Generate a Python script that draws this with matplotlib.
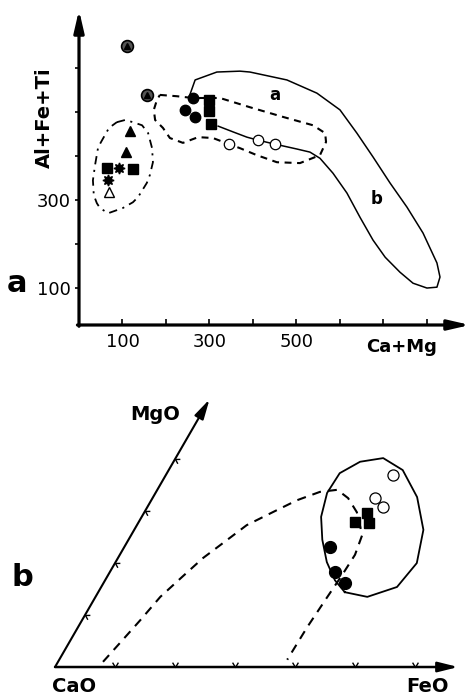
import numpy as np
import matplotlib
matplotlib.use('Agg')
import matplotlib.pyplot as plt
from matplotlib.path import Path

plt.rcParams['font.family'] = 'DejaVu Sans'
plt.rcParams['lines.scale_dashes'] = False

# --- a: Al+Fe+Ti vs Ca+Mg ---
circtri_x = [110, 156]
circtri_y = [650, 539]
dot_x = [262, 244, 267]
dot_y = [532, 505, 489]
sq_x = [299, 299, 303]
sq_y = [527, 502, 473]
ring_x = [345, 411, 451]
ring_y = [427, 436, 427]
tri_x = [117, 108]
tri_y = [457, 409]
sq2_x = [64, 124]
sq2_y = [373, 370]
star_x = [92, 67]
star_y = [373, 345]
otri_x = [69]
otri_y = [318]

# field outlines
field_ab_x = [253, 267, 317, 370, 393, 478, 547, 600, 639, 676, 715, 754, 791, 823, 830, 823,
              800, 768, 738, 704, 676, 646, 616, 584, 554, 531, 501, 451, 412, 386, 354, 320]
field_ab_y = [534, 573, 591, 593, 591, 573, 543, 505, 452, 398, 339, 284, 225, 157, 125, 102,
              100, 111, 136, 170, 209, 261, 316, 361, 395, 409, 416, 427, 436, 443, 455, 468]
dash_x = [186, 225, 262, 324, 393, 469, 538, 566, 568, 554, 508, 455, 409, 370, 345, 308, 274,
          239, 209, 193, 175, 172, 179, 186]
dash_y = [539, 536, 532, 532, 511, 489, 470, 452, 432, 402, 384, 386, 402, 418, 427, 441, 443,
          430, 441, 464, 482, 505, 527, 539]
dd_x = [87, 106, 124, 145, 159, 168, 170, 163, 156, 136, 124, 101, 67, 48, 41, 34, 32, 37, 44,
        53, 69, 87]
dd_y = [477, 482, 477, 470, 452, 418, 386, 357, 339, 307, 295, 282, 270, 282, 293, 311, 345,
        380, 420, 436, 464, 477]

# --- b: CaO - MgO - FeO diagram (axis units) ---
b_ring_fe = [3.79, 3.71, 3.93]
b_ring_mg = [3.70, 3.25, 3.08]
b_sq_fe = [3.60, 3.72, 3.85]
b_sq_mg = [2.79, 2.96, 2.77]
b_dot_fe = [3.43, 3.75, 4.03]
b_dot_mg = [2.31, 1.83, 1.62]

egg_fe = [4.11, 4.53, 4.93, 5.03, 4.82, 4.40, 3.90, 3.46, 3.11, 2.88, 2.86, 2.99, 3.23, 3.52,
          3.83, 4.11]
egg_mg = [1.44, 1.35, 1.54, 2.00, 2.64, 3.27, 3.79, 4.02, 3.95, 3.73, 3.35, 2.89, 2.45, 2.02,
          1.67, 1.44]
arch_fe = [0.75, 0.85, 0.97, 1.08, 1.25, 1.42, 1.61, 1.83, 2.14, 2.43, 2.73, 3.00, 3.26, 3.54,
           3.85, 3.92, 3.90, 3.86, 3.82, 3.80]
arch_mg = [0.10, 0.46, 0.90, 1.35, 1.73, 2.10, 2.39, 2.73, 2.98, 3.21, 3.37, 3.41, 3.25, 2.98,
           2.54, 2.16, 1.77, 1.29, 0.77, 0.14]
ticks_b = [1, 2, 3, 4, 5, 6]


def tern(fe, mg):
    fe = np.asarray(fe, float)
    mg = np.asarray(mg, float)
    return fe + 0.5 * mg, mg * np.sqrt(3) / 2


def fpos(px, py):
    return px / 472, 1 - py / 696


fig = plt.figure(figsize=(4.72, 6.96), dpi=100)

ax = fig.add_axes([79 / 472, 1 - 325 / 696, 391 / 472, 315 / 696])
ax.set_xlim(0, 899)
ax.set_ylim(16, 732)
for s in ax.spines.values():
    s.set_visible(False)
ax.set_xticks([100, 200, 300, 400, 500, 600, 700, 800])
ax.set_xticklabels(['100', '', '300', '', '500', '', '', ''])
ax.set_yticks([100, 200, 300, 400, 500, 600])
ax.set_yticklabels(['100', '', '300', '', '', ''])
ax.tick_params(axis='x', direction='in', length=4, width=1.2, pad=6, labelsize=13)
ax.tick_params(axis='y', direction='out', length=3, width=1.2, pad=3, labelsize=13)
arrow = dict(arrowstyle='-|>,head_length=1.3,head_width=0.3', lw=2.3, color='k',
             shrinkA=0, shrinkB=0)
ax.annotate('', xy=(0, 1), xytext=(0, -0.004), xycoords='axes fraction', arrowprops=arrow,
            annotation_clip=False)
ax.annotate('', xy=(1, 0), xytext=(-0.004, 0), xycoords='axes fraction', arrowprops=arrow,
            annotation_clip=False)

ax.plot(field_ab_x, field_ab_y, color='k', lw=1.1)
ax.plot(dash_x, dash_y, color='k', lw=1.5, dashes=(5, 4))
ax.plot(dd_x, dd_y, color='k', lw=1.3, dashes=(6, 4, 1.5, 4))

ax.plot(circtri_x, circtri_y, 'o', ms=8.5, mfc='#555555', mec='k', mew=1.2, zorder=5)
ax.plot(circtri_x, circtri_y, '^', ms=4.5, color='k', zorder=6)
ax.plot(dot_x, dot_y, 'o', ms=7.5, color='k', zorder=5)
ax.plot(sq_x, sq_y, 's', ms=6.5, color='k', zorder=5)
ax.plot(ring_x, ring_y, 'o', ms=7.5, mfc='white', mec='k', mew=0.9, zorder=5)
ax.plot(tri_x, tri_y, '^', ms=7.5, color='k', zorder=5)
ax.plot(sq2_x, sq2_y, 's', ms=6.5, color='k', zorder=5)
ax.plot(star_x, star_y, marker=(8, 1, 0), ls='none', ms=8, color='k', zorder=5)
ax.plot(otri_x, otri_y, '^', ms=7.5, mfc='white', mec='k', mew=1.0, zorder=5)

ax.text(451, 539, 'a', fontsize=12, fontweight='bold', ha='center', va='center')
ax.text(685, 302, 'b', fontsize=12, fontweight='bold', ha='center', va='center')

fig.text(*fpos(44, 118), 'Al+Fe+Ti', rotation=90, fontsize=14, fontweight='bold',
         ha='center', va='center')
fig.text(*fpos(402, 347), 'Ca+Mg', fontsize=13, fontweight='bold', ha='center', va='center')
fig.text(*fpos(17, 284), 'a', fontsize=22, fontweight='bold', ha='center', va='center')

# --- lower diagram ---
ax2 = fig.add_axes([0, 0, 1, 316 / 696])
ax2.set_xlim(-0.917, 6.95)
ax2.set_ylim(-0.483, 4.783)
ax2.axis('off')

arrow2 = dict(arrowstyle='-|>,head_length=1.2,head_width=0.3', lw=1.8, color='k',
              shrinkA=0, shrinkB=0)
ax2.annotate('', xy=(6.72, 0), xytext=(0, 0), arrowprops=arrow2)
mx, my = tern(0, 5.15)
ax2.annotate('', xy=(float(mx), float(my)), xytext=(0, 0),
             arrowprops=dict(arrow2, lw=1.5))

v_fe = Path([(-0.6, 1), (0, 0), (0.6, 1)], [Path.MOVETO, Path.LINETO, Path.LINETO])
v_mg = Path([(0.93, 0.02), (0, 0), (0.45, -0.82)], [Path.MOVETO, Path.LINETO, Path.LINETO])
tx, ty = tern(ticks_b, np.zeros(6))
ax2.plot(tx, ty, ls='none', marker=v_fe, ms=7, mfc='none', mec='k', mew=1.0)
tx, ty = tern(np.zeros(4), ticks_b[:4])
ax2.plot(tx, ty, ls='none', marker=v_mg, ms=7, mfc='none', mec='k', mew=1.0)

ex, ey = tern(egg_fe, egg_mg)
ax2.plot(ex, ey, color='k', lw=1.3)
axx, ayy = tern(arch_fe, arch_mg)
ax2.plot(axx, ayy, color='k', lw=1.5, dashes=(6.5, 5))

px, py = tern(b_ring_fe, b_ring_mg)
ax2.plot(px, py, 'o', ms=8, mfc='white', mec='k', mew=0.9, zorder=5)
px, py = tern(b_sq_fe, b_sq_mg)
ax2.plot(px, py, 's', ms=7, color='k', zorder=5)
px, py = tern(b_dot_fe, b_dot_mg)
ax2.plot(px, py, 'o', ms=8.5, color='k', zorder=5)

fig.text(*fpos(155, 414), 'MgO', fontsize=14, fontweight='bold', ha='center', va='center')
fig.text(*fpos(74, 686), 'CaO', fontsize=14, fontweight='bold', ha='center', va='center')
fig.text(*fpos(427, 686), 'FeO', fontsize=14, fontweight='bold', ha='center', va='center')
fig.text(*fpos(22, 577), 'b', fontsize=22, fontweight='bold', ha='center', va='center')

fig.savefig('out.png', dpi=100, facecolor='white')
